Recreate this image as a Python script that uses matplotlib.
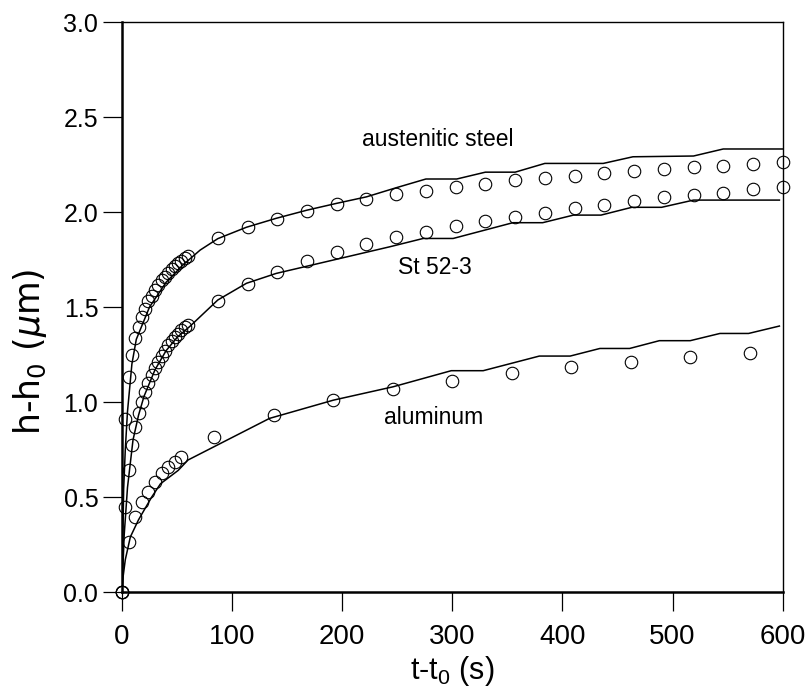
import matplotlib
matplotlib.use("Agg")
import matplotlib.pyplot as plt

T_DENSE = [0, 3, 6, 9, 12, 15, 18, 21, 24, 27, 30, 33, 36, 39, 42, 45, 48,
           51, 54, 57, 60]
T_LATE = [87, 114, 141, 168, 195, 222, 249, 276, 303, 330, 357, 384, 411,
          438, 465, 492, 519, 546, 573, 600]

AUST_DENSE = [0.0, 0.91, 1.13, 1.25, 1.335, 1.395, 1.45, 1.49, 1.53, 1.56,
              1.59, 1.615, 1.64, 1.66, 1.68, 1.70, 1.715, 1.73, 1.745,
              1.757, 1.768]
AUST_LATE = [1.862, 1.919, 1.966, 2.007, 2.042, 2.067, 2.095, 2.112, 2.13,
             2.149, 2.167, 2.179, 2.192, 2.204, 2.217, 2.228, 2.235, 2.243,
             2.253, 2.263]

ST_DENSE = [0.0, 0.447, 0.642, 0.774, 0.87, 0.94, 1.0, 1.054, 1.10, 1.14,
            1.18, 1.21, 1.24, 1.27, 1.30, 1.32, 1.34, 1.36, 1.38, 1.395,
            1.405]
ST_LATE = [1.533, 1.621, 1.686, 1.744, 1.791, 1.83, 1.87, 1.896, 1.926,
           1.955, 1.975, 1.996, 2.022, 2.037, 2.058, 2.077, 2.089, 2.102,
           2.119, 2.13]

AL_T = [0, 6, 12, 18, 24, 30, 36, 42, 48, 54, 84, 138, 192, 246, 300, 354,
        408, 462, 516, 570]
AL_H = [0.0, 0.265, 0.396, 0.475, 0.528, 0.58, 0.625, 0.66, 0.686, 0.712,
        0.817, 0.932, 1.01, 1.067, 1.112, 1.151, 1.186, 1.212, 1.239, 1.256]

# model curves (polyline vertices)
AUST_FIT_T = [0, 1.5, 3, 5, 9, 13, 25, 40, 55, 71, 87, 113, 140, 168, 195,
              222, 249, 276, 304, 330, 357, 384, 437, 464, 519, 546, 600]
AUST_FIT_H = [0.0, 0.54, 0.75, 0.95, 1.2, 1.33, 1.5, 1.63, 1.72, 1.80,
              1.86, 1.92, 1.967, 2.01, 2.046, 2.08, 2.128, 2.174, 2.174,
              2.21, 2.21, 2.256, 2.256, 2.291, 2.295, 2.332, 2.332]

ST_FIT_T = [0, 2, 5, 10, 15, 20, 30, 40, 50, 62, 87, 113, 140, 243, 273.5,
            300.7, 355, 382, 410, 435, 463, 490, 519, 597]
ST_FIT_H = [0.0, 0.3, 0.55, 0.8, 0.93, 1.03, 1.17, 1.27, 1.34, 1.40, 1.537,
            1.625, 1.677, 1.817, 1.861, 1.861, 1.944, 1.944, 1.984, 1.984,
            2.025, 2.025, 2.063, 2.063]

AL_FIT_T = [0, 1, 3, 7.6, 15, 27, 35, 51, 60, 134, 192, 246, 299, 328, 379,
            407, 434, 461, 488, 516, 543, 569, 597]
AL_FIT_H = [0.0, 0.08, 0.17, 0.29, 0.38, 0.50, 0.57, 0.64, 0.695, 0.914,
            1.01, 1.08, 1.165, 1.165, 1.242, 1.242, 1.282, 1.282, 1.323,
            1.323, 1.361, 1.361, 1.40]

LABELS = [("austenitic steel", 287, 2.38),
          ("St 52-3", 284, 1.71),
          ("aluminum", 283, 0.92)]

plt.rcParams["font.family"] = ["Liberation Sans", "DejaVu Sans"]
plt.rcParams["mathtext.fontset"] = "custom"
plt.rcParams["mathtext.rm"] = "Liberation Sans"
plt.rcParams["mathtext.it"] = "Liberation Sans:italic"

fig = plt.figure(figsize=(8.1, 6.9), dpi=100)
ax = fig.add_axes([0.1506, 0.142, 0.8157, 0.826])

mk = dict(ls="none", marker="o", ms=9, mfc="none", mec="black", mew=0.8,
          zorder=3, clip_on=False)
ax.plot(T_DENSE + T_LATE, AUST_DENSE + AUST_LATE, **mk)
ax.plot(T_DENSE + T_LATE, ST_DENSE + ST_LATE, **mk)
ax.plot(AL_T, AL_H, **mk)

for tt, hh in [(AUST_FIT_T, AUST_FIT_H), (ST_FIT_T, ST_FIT_H),
               (AL_FIT_T, AL_FIT_H)]:
    ax.plot(tt, hh, color="black", lw=1.1, zorder=2)

for txt, x, y in LABELS:
    ax.text(x, y, txt, ha="center", va="center", fontsize=16.5)

ax.set_xlim(0, 600)
ax.set_ylim(0, 3.0)
ax.set_xticks(range(0, 601, 100))
ax.set_yticks([0, 0.5, 1.0, 1.5, 2.0, 2.5, 3.0])
ax.set_yticklabels([f"{v:.1f}" for v in ax.get_yticks()])
ax.tick_params(direction="out", length=14, width=0.9, labelsize=18,
               pad=3)
ax.tick_params(axis="x", labelsize=20, pad=9)
for side in ("left", "bottom"):
    ax.spines[side].set_linewidth(1.8)
for side in ("top", "right"):
    ax.spines[side].set_linewidth(1.0)

fig.text(452 / 810, 1 - 671 / 690, r"t-t$_0$ (s)", ha="center",
         va="center", fontsize=22)
fig.text(30 / 810, 1 - 352 / 690, r"h-h$_0$ ($\mu$m)", ha="center",
         va="center", rotation=90, fontsize=25, family="DejaVu Sans",
         math_fontfamily="dejavusans")

fig.savefig("out.png", dpi=100)
